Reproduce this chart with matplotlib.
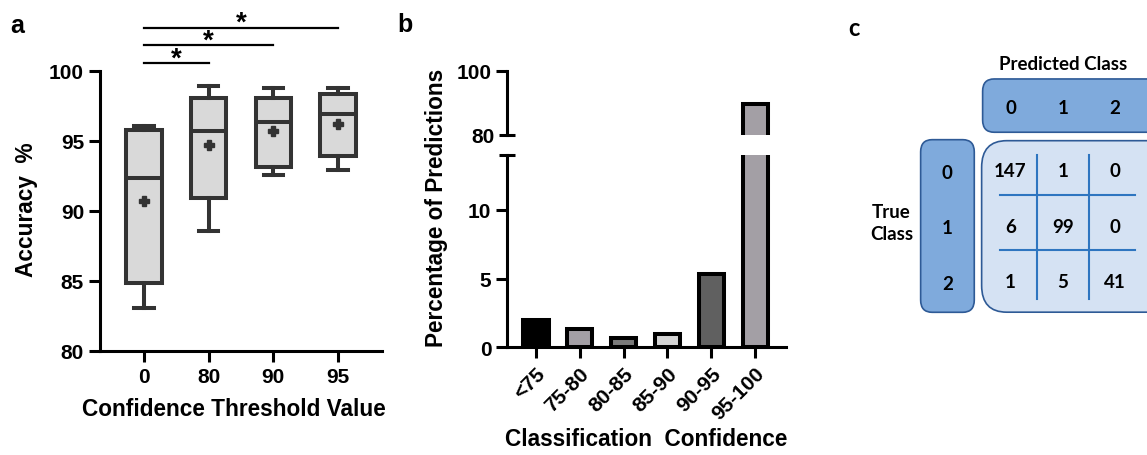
#!/usr/bin/env python3

import matplotlib
matplotlib.use("agg")
import matplotlib.pyplot as plt
from matplotlib.patches import FancyBboxPatch
import numpy as np

plt.rcParams["font.family"] = ["Liberation Sans", "DejaVu Sans"]
plt.rcParams["font.weight"] = "bold"

# panel a: accuracy per confidence threshold (box summary)
thresholds = ["0", "80", "90", "95"]
acc_min = [83.05, 88.6, 92.6, 92.9]
acc_q1 = [84.85, 90.95, 93.15, 93.9]
acc_med = [92.35, 95.75, 96.35, 96.9]
acc_q3 = [95.8, 98.05, 98.05, 98.35]
acc_max = [96.05, 98.9, 98.8, 98.8]
acc_mean = [90.7, 94.7, 95.7, 96.25]
sig_pairs = [(0, 1), (0, 2), (0, 3)]
sig_levels = [100.55, 101.85, 103.1]

# panel b: share of predictions per confidence bin
conf_bins = ["<75", "75-80", "80-85", "85-90", "90-95", "95-100"]
pct_pred = [2.0, 1.333, 0.667, 1.0, 5.333, 89.667]
bar_colors = ["#000000", "#a39fa5", "#7a7a7a", "#d4d4d4", "#606060", "#a39fa5"]

# panel c: confusion matrix
classes = ["0", "1", "2"]
confusion = [[147, 1, 0],
             [6, 99, 0],
             [1, 5, 41]]

W, H = 1147, 456
FS = 15      # tick labels
LFS = 16.3   # axis labels
LW = 2.2


def px_axes(fig, left, top, right, bottom):
    return fig.add_axes([left / W, 1 - bottom / H, (right - left) / W, (bottom - top) / H])


def style_axes(ax):
    for s in ["top", "right"]:
        ax.spines[s].set_visible(False)
    for s in ["left", "bottom"]:
        ax.spines[s].set_linewidth(LW)
    ax.tick_params(width=LW, length=8, labelsize=FS)


fig = plt.figure(figsize=(W / 100, H / 100), dpi=100)

# ---- a
ax_a = px_axes(fig, 100, 72, 382, 352)
stats = [dict(whislo=a, q1=b, med=c, q3=d, whishi=e, mean=m, label=t)
         for a, b, c, d, e, m, t in zip(acc_min, acc_q1, acc_med, acc_q3, acc_max, acc_mean, thresholds)]
dark = "#333333"
ax_a.bxp(stats, positions=range(len(thresholds)), widths=0.55, capwidths=0.3,
         showmeans=True, showfliers=False, patch_artist=True,
         boxprops=dict(facecolor="#d9d9d9", edgecolor=dark, linewidth=2.9),
         whiskerprops=dict(color=dark, linewidth=2.9),
         capprops=dict(color=dark, linewidth=2.9),
         medianprops=dict(color=dark, linewidth=2.9),
         meanprops=dict(marker="P", markerfacecolor=dark, markeredgecolor=dark, markersize=6.5))
style_axes(ax_a)
ax_a.set_ylim(80, 100)
ax_a.set_yticks(np.arange(80, 101, 5))
ax_a.set_xlim(-0.68, len(thresholds) - 1 + 0.68)
for (i, j), lvl in zip(sig_pairs, sig_levels):
    ax_a.plot([i, j], [lvl, lvl], color="black", lw=1.6, clip_on=False)
    ax_a.annotate("*", xy=((i + j) / 2, lvl), xytext=(0, -1.5), textcoords="offset points",
                  ha="center", va="baseline", fontsize=20, annotation_clip=False)
fig.text(234 / W, 1 - 410 / H, "Confidence Threshold Value", ha="center", va="center", fontsize=LFS)
fig.text(27 / W, 1 - 210 / H, "Accuracy  %", ha="center", va="center", rotation=90, fontsize=LFS)
fig.text(17 / W, 1 - 26 / H, "a", ha="center", va="center", fontsize=18)

# ---- b (broken y axis)
x = np.arange(len(conf_bins))
ax_bt = px_axes(fig, 507.3, 71.7, 786, 135.7)
ax_bb = px_axes(fig, 507.3, 155.7, 786, 348.3)
for ax in (ax_bt, ax_bb):
    ax.bar(x, pct_pred, width=0.58, color=bar_colors, edgecolor="black", linewidth=2.9)
    style_axes(ax)
    ax.set_xlim(-0.65, len(conf_bins) - 1 + 0.7)
ax_bt.spines["bottom"].set_visible(False)
ax_bt.tick_params(axis="x", bottom=False, labelbottom=False)
ax_bt.set_ylim(80, 100)
ax_bt.set_yticks([100])
ax_bt.set_yticks([80], labels=["80"], minor=True)
ax_bt.tick_params(axis="y", which="minor", direction="inout", length=11, width=LW, labelsize=FS)
ax_bb.set_ylim(0, 14)
ax_bb.set_yticks([0, 5, 10])
ax_bb.set_yticks([14], minor=True)
ax_bb.tick_params(axis="y", which="minor", direction="inout", length=11, width=LW)
ax_bb.set_xticks(x)
ax_bb.set_xticklabels(conf_bins, rotation=45, ha="right", va="top", rotation_mode="anchor")
fig.text(646 / W, 1 - 440 / H, "Classification  Confidence", ha="center", va="center", fontsize=LFS)
fig.text(437 / W, 1 - 208 / H, "Percentage of Predictions", ha="center", va="center", rotation=90, fontsize=LFS)
fig.text(405 / W, 1 - 25 / H, "b", ha="center", va="center", fontsize=18)

# ---- c
cfont = ["Lato", "DejaVu Sans"]
cfs = 13.5
edge = "#2e5a96"
n = len(classes)
ax_c = px_axes(fig, 870, 40, 1147, 330)
ax_c.set_xlim(-2.69, 2.615)
ax_c.set_ylim(2.847, -2.378)
ax_c.axis("off")
ax_c.add_patch(FancyBboxPatch((-0.533, -1.658), n + 1, 0.96,
                              boxstyle="round,pad=0,rounding_size=0.22",
                              fc="#7faadc", ec=edge, lw=1.2))
ax_c.add_patch(FancyBboxPatch((-1.72, -0.564), 1.027, n + 0.11,
                              boxstyle="round,pad=0,rounding_size=0.22",
                              fc="#7faadc", ec=edge, lw=1.2))
ax_c.add_patch(FancyBboxPatch((-0.552, -0.546), n + 1, n + 0.09,
                              boxstyle="round,pad=0,rounding_size=0.48",
                              fc="#d5e2f3", ec=edge, lw=1.2))
grid = "#2e75c0"
for k in range(1, n):
    ax_c.plot([k - 0.5, k - 0.5], [-0.28, n - 0.69], color=grid, lw=1.5)
    ax_c.plot([-0.2, n - 0.61], [k - 0.57, k - 0.57], color=grid, lw=1.5)
for j, c in enumerate(classes):
    ax_c.text(j, -1.135, c, ha="center", va="center", fontsize=cfs, family=cfont)
    ax_c.text(-1.21, j + 0.02, c, ha="center", va="center", fontsize=cfs, family=cfont)
for i in range(n):
    for j in range(n):
        ax_c.text(j, i, str(confusion[i][j]), ha="center", va="center", fontsize=cfs, family=cfont)
ax_c.text(1.0, -1.93, "Predicted Class", ha="center", va="center", fontsize=cfs, family=cfont)
ax_c.text(-2.276, 0.93, "True\nClass", ha="center", va="center", fontsize=cfs, family=cfont,
          linespacing=1.4)
fig.text(854 / W, 1 - 28 / H, "c", ha="center", va="center", fontsize=17, family=cfont)

fig.savefig("out.png", dpi=100)
